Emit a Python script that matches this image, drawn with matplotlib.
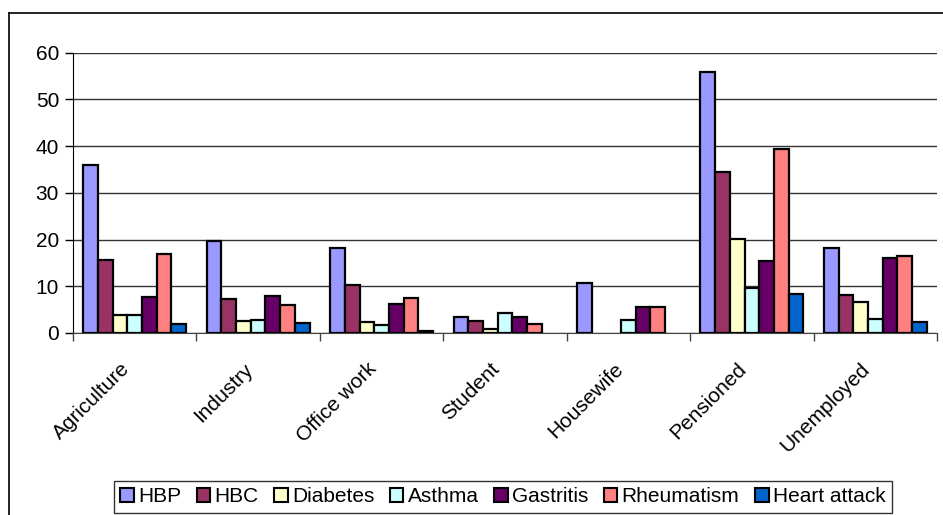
import matplotlib
matplotlib.use("Agg")
import matplotlib.pyplot as plt
from matplotlib.lines import Line2D
from matplotlib.transforms import ScaledTranslation
import numpy as np

plt.rcParams['font.family'] = ['Liberation Sans', 'DejaVu Sans']

categories = ["Agriculture", "Industry", "Office work", "Student",
              "Housewife", "Pensioned", "Unemployed"]

hbp = [36.0, 19.6, 18.2, 3.5, 10.8, 55.9, 18.2]
hbc = [15.7, 7.3, 10.3, 2.6, 0.0, 34.5, 8.1]
diabetes = [3.8, 2.5, 2.3, 0.8, 0.0, 20.1, 6.7]
asthma = [3.9, 2.8, 1.7, 4.2, 2.8, 9.7, 3.0]
gastritis = [7.7, 8.0, 6.2, 3.5, 5.6, 15.4, 16.0]
rheumatism = [16.9, 5.9, 7.5, 2.0, 5.6, 39.4, 16.5]
heart_attack = [1.9, 2.1, 0.5, 0.0, 0.0, 8.4, 2.3]

series_names = ["HBP", "HBC", "Diabetes", "Asthma", "Gastritis",
                "Rheumatism", "Heart attack"]
series_values = [hbp, hbc, diabetes, asthma, gastritis, rheumatism, heart_attack]
series_colors = ["#9999FF", "#993366", "#FFFFCC", "#CCFFFF", "#660066",
                 "#FF8080", "#0066CC"]

fig = plt.figure(figsize=(9.43, 5.15), dpi=100)
fig.patch.set_facecolor("white")
ax = fig.add_axes([73 / 943, 1 - 333 / 515, (937 - 73) / 943, (333 - 52.7) / 515])

x = np.arange(len(categories))
n = len(series_names)
bar_w = 0.119
offsets = (np.arange(n) - (n - 1) / 2) * bar_w
for name, vals, col, off in zip(series_names, series_values, series_colors, offsets):
    vals = np.asarray(vals, dtype=float)
    # zero entries get no bar at all (no outline on the baseline)
    widths = np.where(vals > 0, bar_w, 0.0)
    lws = np.where(vals > 0, 1.6, 0.0)
    ax.bar(x + off, vals, width=widths, color=col, edgecolor="black",
           linewidth=lws, label=name, zorder=3)

ax.set_xlim(-0.5, len(categories) - 0.5)
ax.set_ylim(0, 60)
ax.set_yticks(np.arange(0, 61, 10))
ax.yaxis.grid(True, color="#333333", linewidth=1.0, zorder=0)
ax.tick_params(axis="y", direction="out", length=6, width=1, labelsize=15, pad=4)

ax.set_xticks(x)
ax.set_xticklabels(categories, rotation=45, ha="right", rotation_mode="anchor",
                   fontsize=15)
ax.set_xticks(np.arange(-0.5, len(categories), 1.0), minor=True)
ax.tick_params(axis="x", which="major", length=0, pad=19)
ax.tick_params(axis="x", which="minor", direction="out", length=6, width=1,
               color="#444444")
shift = ScaledTranslation(-15 / 100, 0, fig.dpi_scale_trans)
for lbl in ax.get_xticklabels():
    lbl.set_transform(lbl.get_transform() + shift)

for side in ("top", "right"):
    ax.spines[side].set_visible(False)
ax.spines["left"].set_color("black")
ax.spines["bottom"].set_color("#444444")

leg = fig.legend(loc="upper left", bbox_to_anchor=(114 / 943, 1 - 481 / 515),
                 ncol=7, frameon=True, fancybox=False, fontsize=15,
                 handlelength=0.65, handleheight=0.65, handletextpad=0.2,
                 columnspacing=0.75, borderpad=0.3, borderaxespad=0)
leg.get_frame().set_edgecolor("black")
leg.get_frame().set_linewidth(1.0)
for h in leg.legend_handles:
    h.set_linewidth(1.5)

# chart area outline (left and top edges)
fig.add_artist(Line2D([9 / 943, 9 / 943], [0, 1 - 13 / 515], color="black",
                      linewidth=1.2, transform=fig.transFigure))
fig.add_artist(Line2D([9 / 943, 1], [1 - 13 / 515, 1 - 13 / 515], color="black",
                      linewidth=1.2, transform=fig.transFigure))

fig.savefig("out.png", dpi=100)
